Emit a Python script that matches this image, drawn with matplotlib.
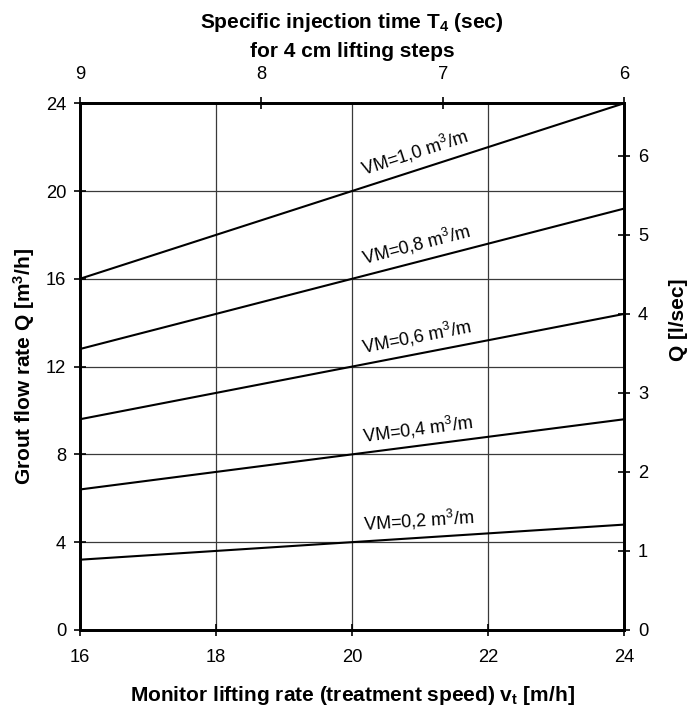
import numpy as np
import matplotlib
matplotlib.use("Agg")
import matplotlib.pyplot as plt
import matplotlib.transforms as mtransforms

plt.rcParams['font.family'] = ['Liberation Sans', 'DejaVu Sans']
plt.rcParams['mathtext.fontset'] = 'custom'
plt.rcParams['mathtext.rm'] = 'Liberation Sans'
plt.rcParams['mathtext.it'] = 'Liberation Sans:italic'
plt.rcParams['mathtext.bf'] = 'Liberation Sans:bold'

# Data
speed = [16, 24]                      # m/h
vm_values = [1.0, 0.8, 0.6, 0.4, 0.2]  # m3/m
vm_labels = ["VM=1,0 m$^3$/m", "VM=0,8 m$^3$/m", "VM=0,6 m$^3$/m",
             "VM=0,4 m$^3$/m", "VM=0,2 m$^3$/m"]
x_ticks = [16, 18, 20, 22, 24]
y_ticks = [0, 4, 8, 12, 16, 20, 24]
top_ticks = [9, 8, 7, 6]
right_ticks = [0, 1, 2, 3, 4, 5, 6]

TICK_FS = 13.2
LAB_FS = 15

fig = plt.figure(figsize=(6.89, 7.07), dpi=100)
ax = fig.add_axes([0.116, 0.109, 0.790, 0.745])

for vm in vm_values:
    q = [vm * v for v in speed]
    ax.plot(speed, q, color='black', lw=1.5, zorder=3)

ax.set_xlim(16, 24)
ax.set_ylim(0, 24)
ax.set_xticks(x_ticks)
ax.set_yticks(y_ticks)
ax.grid(True, color='#3a3a3a', lw=0.9)
ax.tick_params(axis='x', direction='inout', length=8, width=1.2, labelsize=TICK_FS, pad=9.5)
ax.tick_params(axis='y', direction='inout', length=8, width=1.2, labelsize=TICK_FS, pad=6)
for s in ax.spines.values():
    s.set_linewidth(1.8)

# VM labels
label_x = 21.0
for vm, lab in zip(vm_values, vm_labels):
    p1 = ax.transData.transform((16, vm * 16))
    p2 = ax.transData.transform((24, vm * 24))
    ang = np.degrees(np.arctan2(p2[1] - p1[1], p2[0] - p1[0]))
    d = 7.5
    off = mtransforms.offset_copy(ax.transData, fig=fig, x=-np.sin(np.radians(ang)) * d,
                                  y=np.cos(np.radians(ang)) * d, units='points')
    ax.text(label_x, vm * label_x, lab, rotation=ang, rotation_mode='anchor',
            ha='center', va='baseline', fontsize=13, transform=off, zorder=4)

# Top axis: specific injection time (linear 9 -> 6)
axt = ax.twiny()
axt.set_xlim(9, 6)
axt.set_xticks(top_ticks)
axt.tick_params(direction='inout', length=8, width=1.2, labelsize=TICK_FS, pad=10.5)

# Right axis: l/sec
axr = ax.twinx()
axr.set_ylim(0, 24 / 3.6)
axr.set_yticks(right_ticks)
axr.tick_params(direction='inout', length=8, width=1.2, labelsize=TICK_FS, pad=6)
for a in (axt, axr):
    for s in a.spines.values():
        s.set_linewidth(1.8)

W, H = 689.0, 707.0
cx = (80 + 624) / 2 / W
fig.text(cx, 1 - 28 / H, "Specific injection time T$_\\mathbf{4}$ (sec)",
         ha='center', va='baseline', fontsize=LAB_FS, fontweight='bold')
fig.text(cx, 1 - 57 / H, "for 4 cm lifting steps",
         ha='center', va='baseline', fontsize=LAB_FS, fontweight='bold')
fig.text(cx, 1 - 701 / H, "Monitor lifting rate (treatment speed) v$_\\mathbf{t}$ [m/h]",
         ha='center', va='baseline', fontsize=LAB_FS, fontweight='bold')
fig.text(24 / W, 1 - 366 / H, "Grout flow rate Q [m$^\\mathbf{3}$/h]", rotation=90,
         ha='center', va='center', fontsize=LAB_FS, fontweight='bold')
fig.text(679 / W, 1 - 320 / H, "Q [l/sec]", rotation=90,
         ha='center', va='center', fontsize=LAB_FS, fontweight='bold')

fig.savefig("out.png", dpi=100)
